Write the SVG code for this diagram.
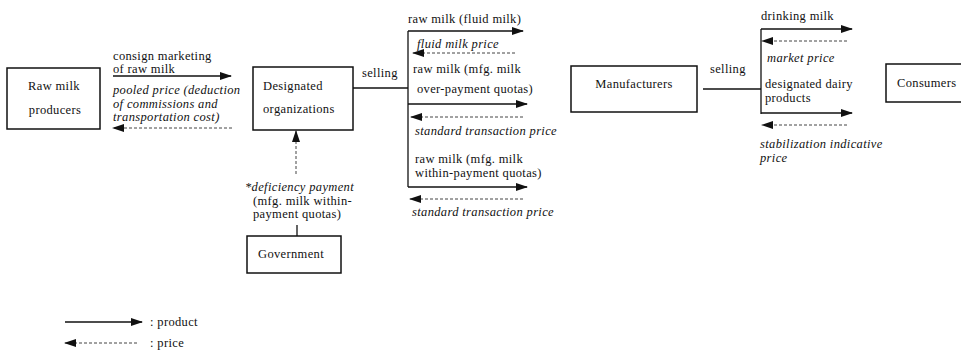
<svg xmlns="http://www.w3.org/2000/svg" width="961" height="356" viewBox="0 0 961 356">
<defs>
<style>
.box{fill:#fff;stroke:#111;stroke-width:1.5}
.t{font-family:'Liberation Serif','DejaVu Serif',serif;font-size:12.5px;letter-spacing:0.35px;fill:#111}
.i{font-style:italic}
.c{text-anchor:middle}
.prod{stroke:#111;stroke-width:1.5;fill:none}
.price{stroke:#444;stroke-width:1;stroke-dasharray:3 2;fill:none}
.ln{stroke:#111;stroke-width:1.3;fill:none}
</style>
<marker id="ah" markerUnits="userSpaceOnUse" markerWidth="12" markerHeight="8" refX="11" refY="4" orient="auto">
<path d="M0,0 L12,4 L0,8 z" fill="#111"/>
</marker>
</defs>
<rect width="961" height="356" fill="#fff"/>

<g font-family="Liberation Serif, DejaVu Serif, serif">
<g id="raw-milk-producers">
<rect class="box" x="7" y="68" width="93" height="61"/>
<text class="t c" x="54" y="90">Raw milk</text>
<text class="t c" x="55" y="114">producers</text>
</g>

<g id="designated-organizations">
<rect class="box" x="253" y="67" width="100" height="63"/>
<text class="t" x="263" y="90">Designated</text>
<text class="t" x="263" y="113">organizations</text>
</g>

<g id="manufacturers">
<rect class="box" x="571" y="66" width="126" height="46"/>
<text class="t c" x="634" y="88">Manufacturers</text>
</g>

<g id="consumers">
<rect class="box" x="886" y="64" width="80" height="38"/>
<text class="t" x="897" y="87">Consumers</text>
</g>

<g id="government">
<rect class="box" x="247" y="236" width="94" height="37"/>
<text class="t" x="258" y="258">Government</text>
</g>

<g id="connectors">
<line class="prod" x1="113" y1="76" x2="231" y2="76" marker-end="url(#ah)"/>
<line class="price" x1="232" y1="128" x2="113" y2="128" marker-end="url(#ah)"/>

<line class="ln" x1="353" y1="88" x2="408" y2="88"/>
<line class="ln" x1="408" y1="31" x2="408" y2="187"/>
<line class="prod" x1="408" y1="31" x2="523" y2="31" marker-end="url(#ah)"/>
<line class="price" x1="515" y1="53" x2="413" y2="53" marker-end="url(#ah)"/>
<line class="prod" x1="408" y1="104" x2="527" y2="104" marker-end="url(#ah)"/>
<line class="price" x1="523" y1="117" x2="411" y2="117" marker-end="url(#ah)"/>
<line class="prod" x1="408" y1="187" x2="527" y2="187" marker-end="url(#ah)"/>
<line class="price" x1="523" y1="199" x2="410" y2="199" marker-end="url(#ah)"/>

<line class="ln" x1="703" y1="89" x2="761" y2="89"/>
<line class="ln" x1="761" y1="29" x2="761" y2="114"/>
<line class="prod" x1="761" y1="29" x2="852" y2="29" marker-end="url(#ah)"/>
<line class="price" x1="847" y1="41" x2="762" y2="41" marker-end="url(#ah)"/>
<line class="prod" x1="761" y1="113" x2="852" y2="113" marker-end="url(#ah)"/>
<line class="price" x1="847" y1="125" x2="762" y2="125" marker-end="url(#ah)"/>

<line class="ln" x1="297" y1="225" x2="297" y2="236"/>
<line class="price" x1="296" y1="174" x2="296" y2="131" stroke-dasharray="2 2" marker-end="url(#ah)"/>

<line class="prod" x1="65" y1="322" x2="142" y2="322" marker-end="url(#ah)"/>
<line class="price" x1="137" y1="343" x2="65" y2="343" marker-end="url(#ah)"/>
</g>

<g id="labels">
<text class="t" x="113" y="60">consign marketing</text>
<text class="t" x="113" y="73">of raw milk</text>
<text class="t i" x="113" y="94">pooled price (deduction</text>
<text class="t i" x="113" y="107.5">of commissions and</text>
<text class="t i" x="113" y="121">transportation cost)</text>

<text class="t" x="362" y="77">selling</text>
<text class="t" x="408" y="23">raw milk (fluid milk)</text>
<text class="t i" x="417" y="48">fluid milk price</text>
<text class="t" x="413" y="73">raw milk (mfg. milk</text>
<text class="t" x="417" y="93">over-payment quotas)</text>
<text class="t i" x="415" y="135">standard transaction price</text>
<text class="t" x="415" y="163">raw milk (mfg. milk</text>
<text class="t" x="415" y="177">within-payment quotas)</text>
<text class="t i" x="412" y="216">standard transaction price</text>

<text class="t" x="710" y="73">selling</text>
<text class="t" x="761" y="20">drinking milk</text>
<text class="t i" x="767" y="62">market price</text>
<text class="t" x="765" y="88">designated dairy</text>
<text class="t" x="765" y="101.5">products</text>
<text class="t i" x="760" y="148">stabilization indicative</text>
<text class="t i" x="760" y="162">price</text>

<text class="t i" x="245" y="191">*deficiency payment</text>
<text class="t" x="253" y="204.5">(mfg. milk within-</text>
<text class="t" x="253" y="218">payment quotas)</text>

<text class="t" x="150" y="326">: product</text>
<text class="t" x="150" y="347">: price</text>
</g>
</g>
</svg>
